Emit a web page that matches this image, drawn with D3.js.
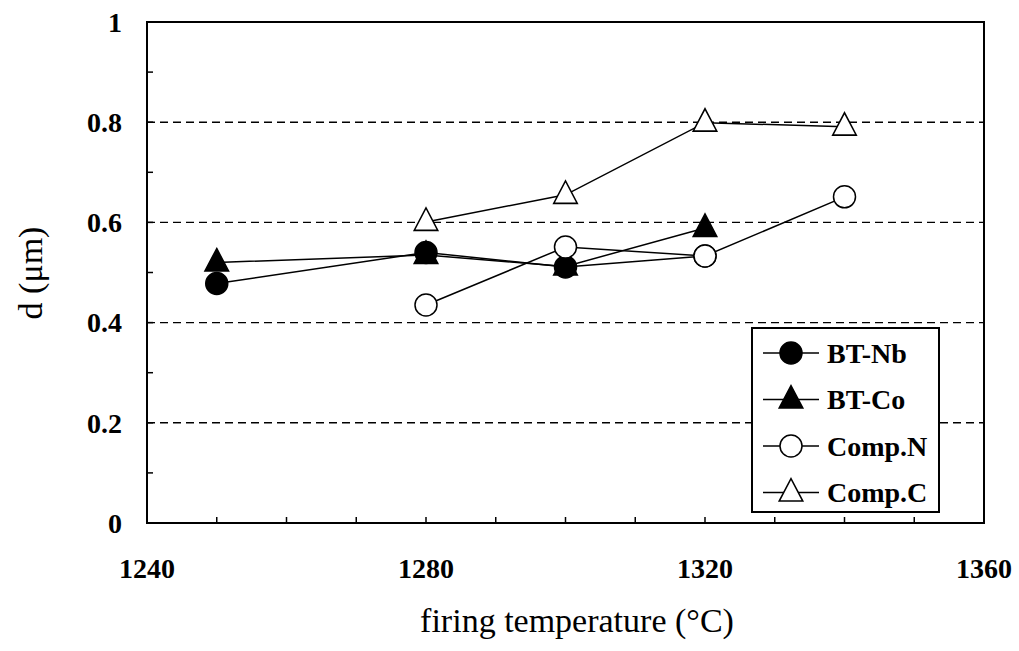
<!DOCTYPE html>
<html>
<head>
<meta charset="utf-8">
<script src="https://cdn.jsdelivr.net/npm/d3@7"></script>
<style>
  body { margin: 0; background: #fff; -webkit-font-smoothing: antialiased; }
  svg { display: block; }
  text { font-family: "Liberation Serif", "DejaVu Serif", serif; fill: #000; }
</style>
</head>
<body>
<svg id="chart"></svg>
<script>
// data
const temps = [1250, 1280, 1300, 1320, 1340];
const btNb = [[1250, 0.478], [1280, 0.540], [1300, 0.511], [1320, 0.533]];
const btCo = [[1250, 0.520], [1280, 0.535], [1300, 0.512], [1320, 0.589]];
const compN = [[1280, 0.435], [1300, 0.551], [1320, 0.533], [1340, 0.651]];
const compC = [[1280, 0.601], [1300, 0.655], [1320, 0.799], [1340, 0.791]];
const seriesNames = ["BT-Nb", "BT-Co", "Comp.N", "Comp.C"];
const xTicks = [1240, 1280, 1320, 1360];
const yTicks = [0, 0.2, 0.4, 0.6, 0.8, 1];
const gridVals = [0.2, 0.4, 0.6, 0.8];

const width = 1019, height = 651;
const margin = {top: 22, right: 35, bottom: 128, left: 147};

const svg = d3.select("#chart").attr("width", width).attr("height", height);

const x = d3.scaleLinear().domain([1240, 1360]).range([margin.left, width - margin.right]);
const y = d3.scaleLinear().domain([0, 1]).range([height - margin.bottom, margin.top]);

// 破線のグリッド
svg.append("g").selectAll("line").data(gridVals).enter()
  .append("line")
  .attr("x1", x(1240)).attr("x2", x(1360))
  .attr("y1", d => y(d)).attr("y2", d => y(d))
  .attr("stroke", "#000").attr("stroke-width", 1.4)
  .attr("stroke-dasharray", "8,5");

// minor ticks (inside)
svg.append("g").selectAll("line").data(d3.range(0.1, 1, 0.1)).enter()
  .append("line")
  .attr("x1", x(1240)).attr("x2", x(1240) + 6)
  .attr("y1", d => y(d)).attr("y2", d => y(d))
  .attr("stroke", "#000").attr("stroke-width", 1.5);
svg.append("g").selectAll("line").data(d3.range(1250, 1360, 10)).enter()
  .append("line")
  .attr("x1", d => x(d)).attr("x2", d => x(d))
  .attr("y1", y(0)).attr("y2", y(0) - 6)
  .attr("stroke", "#000").attr("stroke-width", 1.5);

// frame
svg.append("rect")
  .attr("x", x(1240)).attr("y", y(1))
  .attr("width", x(1360) - x(1240)).attr("height", y(0) - y(1))
  .attr("fill", "none").attr("stroke", "#000").attr("stroke-width", 2);

// tick labels
svg.append("g").selectAll("text").data(yTicks).enter()
  .append("text")
  .attr("x", x(1240) - 25).attr("y", d => y(d)).attr("dy", "0.35em")
  .attr("text-anchor", "end")
  .style("font-size", "28px").style("font-weight", "bold")
  .text(d => d);
svg.append("g").selectAll("text").data(xTicks).enter()
  .append("text")
  .attr("x", d => x(d)).attr("y", y(0) + 55)
  .attr("text-anchor", "middle")
  .style("font-size", "28px").style("font-weight", "bold")
  .text(d => d);

// axis titles
svg.append("text")
  .attr("x", 577).attr("y", 632)
  .attr("text-anchor", "middle")
  .style("font-size", "34px")
  .text("firing temperature (°C)");
svg.append("g").attr("transform", "translate(42,273) rotate(-90)")
  .append("text")
  .attr("text-anchor", "middle")
  .attr("fill", "#000")
  .style("font-size", "34px")
  .text("d (μm)");

const line = d3.line().x(d => x(d[0])).y(d => y(d[1]));
const triangle = d3.symbol().type(d3.symbolTriangle).size(240);

const series = [
  {name: seriesNames[0], data: btNb, shape: "circle", fill: "#000"},
  {name: seriesNames[1], data: btCo, shape: "triangle", fill: "#000"},
  {name: seriesNames[2], data: compN, shape: "circle", fill: "#fff"},
  {name: seriesNames[3], data: compC, shape: "triangle", fill: "#fff"}
];

function drawMarker(g, s) {
  if (s.shape === "circle") {
    g.append("circle").attr("r", 11);
  } else {
    g.append("path").attr("d", triangle).attr("transform", "translate(0,1) scale(1,1.1)");
  }
  g.selectAll("circle,path").attr("fill", s.fill).attr("stroke", "#000").attr("stroke-width", 1.5);
}

// lines first, then markers
series.forEach(s => {
  svg.append("path").datum(s.data)
    .attr("d", line).attr("fill", "none")
    .attr("stroke", "#000").attr("stroke-width", 1.5);
});
series.forEach(s => {
  s.data.forEach(d => {
    const g = svg.append("g").attr("transform", `translate(${x(d[0])},${y(d[1])})`);
    drawMarker(g, s);
  });
});

// legend
const lg = svg.append("g").attr("transform", "translate(752,328)");
lg.append("rect").attr("width", 187).attr("height", 184)
  .attr("fill", "#fff").attr("stroke", "#000").attr("stroke-width", 2);
series.forEach((s, i) => {
  const row = lg.append("g").attr("transform", `translate(0,${25 + i * 46.5})`);
  row.append("line").attr("x1", 11).attr("x2", 67)
    .attr("stroke", "#000").attr("stroke-width", 1.5);
  const m = row.append("g").attr("transform", "translate(39,0)");
  drawMarker(m, s);
  row.append("text").attr("x", 75).attr("dy", "0.35em")
    .style("font-size", "28px").style("font-weight", "bold")
    .text(s.name);
});
</script>
</body>
</html>
